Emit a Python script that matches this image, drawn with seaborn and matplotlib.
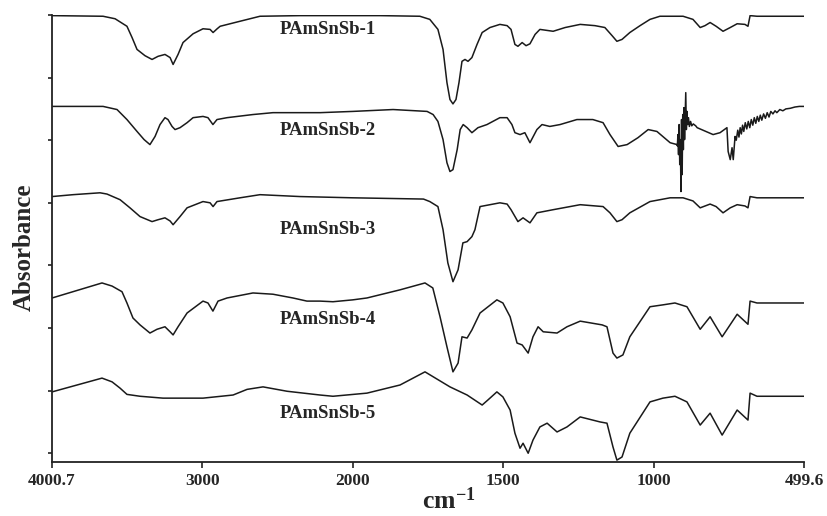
import numpy as np
import pandas as pd
import matplotlib
matplotlib.use("Agg")
import matplotlib.pyplot as plt
import seaborn as sns

# FTIR spectra, wavenumber (cm-1) and offset absorbance
samples = ["PAmSnSb-1", "PAmSnSb-2", "PAmSnSb-3", "PAmSnSb-4", "PAmSnSb-5"]

wn_1 = [4000, 3661, 3581, 3502, 3468, 3435, 3382, 3335, 3295, 3249, 3215, 3195, 3162, 3129, 3062,
        2996, 2949, 2929, 2902, 2882, 2750, 2617, 2351, 2019, 1910, 1777, 1744, 1717, 1700, 1687,
        1677, 1667, 1657, 1647, 1637, 1627, 1617, 1604, 1587, 1570, 1544, 1511, 1487, 1474, 1461,
        1451, 1437, 1424, 1411, 1394, 1378, 1334, 1294, 1244, 1195, 1162, 1138, 1122, 1105, 1079,
        1045, 1012, 979, 902, 869, 845, 829, 812, 792, 769, 745, 722, 696, 686, 679, 656, 499.6]
ab_1 = [6.99, 6.98, 6.94, 6.82, 6.64, 6.45, 6.35, 6.29, 6.34, 6.37, 6.32, 6.21, 6.37, 6.56, 6.70,
        6.78, 6.77, 6.72, 6.78, 6.82, 6.90, 6.98, 6.99, 6.99, 6.99, 6.98, 6.93, 6.77, 6.45, 5.92,
        5.65, 5.58, 5.65, 5.92, 6.26, 6.29, 6.26, 6.32, 6.53, 6.72, 6.80, 6.85, 6.83, 6.77, 6.53,
        6.50, 6.56, 6.51, 6.54, 6.69, 6.77, 6.74, 6.80, 6.85, 6.83, 6.80, 6.67, 6.58, 6.61, 6.72,
        6.83, 6.93, 6.98, 6.98, 6.93, 6.80, 6.83, 6.88, 6.82, 6.74, 6.80, 6.86, 6.85, 6.82, 6.99,
        6.98, 6.98]

wn_2 = [4000, 3661, 3568, 3502, 3435, 3388, 3349, 3315, 3282, 3249, 3229, 3202, 3182, 3149, 3102,
        3062, 2996, 2963, 2930, 2903, 2836, 2664, 2531, 2218, 2000, 1866, 1753, 1733, 1717, 1700,
        1687, 1677, 1667, 1653, 1643, 1633, 1620, 1604, 1584, 1554, 1511, 1487, 1471, 1461, 1444,
        1428, 1411, 1388, 1371, 1345, 1311, 1255, 1202, 1168, 1145, 1118, 1088, 1052, 1018, 989,
        945, 922, 921, 919, 917, 915, 913, 911, 909, 907, 905, 903, 901, 899, 897, 895, 893, 891,
        889, 887, 884, 881, 877, 873, 868, 860, 855, 802, 779, 756, 752, 745, 739, 735, 729, 725,
        720, 716, 712, 708, 704, 700, 695, 690, 685, 680, 675, 670, 665, 660, 655, 650, 645, 640,
        634, 628, 622, 616, 610, 603, 596, 590, 580, 570, 560, 545, 530, 515, 499.6]
ab_2 = [5.54, 5.54, 5.49, 5.33, 5.14, 5.01, 4.93, 5.06, 5.25, 5.36, 5.33, 5.22, 5.17, 5.20, 5.28,
        5.36, 5.38, 5.36, 5.25, 5.33, 5.36, 5.41, 5.44, 5.44, 5.46, 5.49, 5.46, 5.41, 5.30, 5.01,
        4.64, 4.50, 4.53, 4.85, 5.17, 5.25, 5.20, 5.12, 5.20, 5.25, 5.36, 5.36, 5.25, 5.12, 5.09,
        5.12, 4.96, 5.17, 5.25, 5.22, 5.25, 5.33, 5.33, 5.28, 5.09, 4.90, 4.93, 5.04, 5.17, 5.14,
        4.96, 4.93, 4.91, 5.09, 4.77, 5.25, 4.61, 5.01, 4.18, 5.33, 4.45, 5.41, 4.85, 5.52, 5.01,
        5.36, 5.76, 5.17, 5.46, 5.25, 5.36, 5.22, 5.30, 5.23, 5.26, 5.23, 5.20, 5.09, 5.12, 5.20,
        4.82, 4.69, 4.88, 4.69, 5.06, 5.00, 5.16, 5.05, 5.20, 5.10, 5.24, 5.14, 5.28, 5.18, 5.30,
        5.20, 5.33, 5.24, 5.36, 5.27, 5.38, 5.30, 5.40, 5.32, 5.42, 5.35, 5.44, 5.37, 5.46, 5.42,
        5.47, 5.44, 5.49, 5.47, 5.50, 5.51, 5.53, 5.54, 5.54]

wn_3 = [4000, 3861, 3681, 3635, 3548, 3482, 3415, 3335, 3295, 3249, 3215, 3195, 3149, 3102, 2996,
        2949, 2929, 2903, 2750, 2617, 2351, 2000, 1765, 1744, 1717, 1700, 1684, 1667, 1650, 1634,
        1620, 1604, 1594, 1577, 1544, 1511, 1487, 1474, 1451, 1434, 1411, 1388, 1334, 1244, 1168,
        1145, 1122, 1105, 1079, 1012, 945, 902, 869, 845, 812, 792, 769, 745, 722, 696, 686, 679,
        656, 499.6]
ab_3 = [4.10, 4.13, 4.16, 4.14, 4.05, 3.92, 3.78, 3.70, 3.73, 3.76, 3.71, 3.65, 3.78, 3.92, 4.02,
        4.00, 3.94, 4.02, 4.08, 4.13, 4.10, 4.08, 4.06, 4.02, 3.94, 3.57, 3.04, 2.74, 2.93, 3.36,
        3.38, 3.46, 3.57, 3.94, 3.97, 4.00, 3.98, 3.89, 3.70, 3.76, 3.68, 3.84, 3.89, 3.97, 3.94,
        3.84, 3.70, 3.73, 3.84, 4.02, 4.08, 4.08, 4.03, 3.92, 3.98, 3.94, 3.84, 3.92, 3.97, 3.95,
        3.92, 4.10, 4.08, 4.08]

wn_4 = [4000, 3668, 3601, 3535, 3502, 3462, 3415, 3349, 3302, 3249, 3215, 3195, 3162, 3102, 2996,
        2963, 2930, 2896, 2836, 2664, 2531, 2398, 2305, 2218, 2132, 2000, 1953, 1843, 1760, 1734,
        1710, 1687, 1667, 1650, 1637, 1620, 1604, 1577, 1521, 1501, 1477, 1454, 1437, 1417, 1401,
        1384, 1367, 1321, 1288, 1244, 1171, 1155, 1135, 1122, 1102, 1079, 1012, 969, 929, 889, 845,
        812, 772, 722, 686, 679, 656, 499.6]
ab_4 = [2.48, 2.72, 2.67, 2.58, 2.40, 2.16, 2.05, 1.92, 1.98, 2.02, 1.94, 1.89, 2.02, 2.24, 2.43,
        2.40, 2.27, 2.43, 2.48, 2.56, 2.54, 2.48, 2.43, 2.43, 2.42, 2.45, 2.48, 2.61, 2.72, 2.64,
        2.18, 1.70, 1.30, 1.44, 1.86, 1.84, 1.97, 2.24, 2.45, 2.40, 2.18, 1.76, 1.73, 1.60, 1.86,
        2.02, 1.94, 1.92, 2.02, 2.11, 2.05, 2.02, 1.60, 1.52, 1.57, 1.86, 2.34, 2.37, 2.40, 2.34,
        1.98, 2.18, 1.86, 2.22, 2.06, 2.43, 2.40, 2.40]

wn_5 = [4000, 3668, 3601, 3548, 3502, 3415, 3262, 2996, 2796, 2703, 2597, 2437, 2218, 2132, 1953,
        1843, 1760, 1677, 1620, 1570, 1551, 1521, 1501, 1477, 1461, 1444, 1434, 1417, 1401, 1378,
        1354, 1321, 1288, 1244, 1178, 1155, 1135, 1122, 1105, 1079, 1012, 969, 929, 889, 845, 812,
        772, 722, 686, 679, 656, 499.6]
ab_5 = [0.98, 1.20, 1.14, 1.04, 0.94, 0.91, 0.88, 0.88, 0.93, 1.02, 1.06, 0.99, 0.93, 0.91, 0.96,
        1.09, 1.30, 1.06, 0.93, 0.77, 0.85, 0.98, 0.90, 0.69, 0.32, 0.08, 0.16, 0.00, 0.21, 0.42,
        0.48, 0.34, 0.42, 0.58, 0.50, 0.48, 0.10, -0.11, -0.06, 0.32, 0.82, 0.88, 0.91, 0.82, 0.45,
        0.64, 0.29, 0.69, 0.53, 0.96, 0.91, 0.91]

wn_all = [wn_1, wn_2, wn_3, wn_4, wn_5]
ab_all = [ab_1, ab_2, ab_3, ab_4, ab_5]

tick_wn = [4000.7, 3000, 2000, 1500, 1000, 499.6]
tick_labels = ["4000.7", "3000", "2000", "1500", "1000", "499.6"]

sns.set_style("ticks")
plt.rcParams["font.family"] = ["Liberation Serif", "DejaVu Serif"]
plt.rcParams["font.weight"] = "bold"
plt.rcParams["mathtext.fontset"] = "custom"
plt.rcParams["mathtext.rm"] = "Liberation Serif:bold"
plt.rcParams["mathtext.it"] = "Liberation Serif:bold"
plt.rcParams["mathtext.bf"] = "Liberation Serif:bold"

# the instrument axis: 4000-2000 compressed, 2000-500 expanded (equal tick spacing)
brk_wn = [499.6, 1000, 1500, 2000, 3000, 4000.7]
brk_pos = [0, 1, 2, 3, 4, 5]

def fwd(w):
    return np.interp(w, brk_wn, brk_pos)

def inv(p):
    return np.interp(p, brk_pos, brk_wn)

fig = plt.figure(figsize=(8.28, 5.16), dpi=100)
ax = fig.add_axes([52 / 828, 54 / 516, 752 / 828, 447 / 516])

for name, w, a in zip(samples, wn_all, ab_all):
    df = pd.DataFrame({"wn": w, "absorbance": a})
    sns.lineplot(data=df, x="wn", y="absorbance", ax=ax, color="#1a1a1a",
                 linewidth=1.1, estimator=None, errorbar=None, sort=False)

ax.set_xscale("function", functions=(fwd, inv))
ax.set_xlim(4000.7, 499.6)
ax.set_ylim(-0.14, 7.0)
ax.set_xticks(tick_wn)
ax.set_xticklabels(tick_labels)
ax.set_yticks(range(8))
ax.set_yticklabels([])
ax.tick_params(axis="x", labelsize=12.5, length=4, width=1.2, pad=4, color="#222222")
ax.tick_params(axis="y", length=3, width=1.2, color="#222222")
for s in ["top", "right"]:
    ax.spines[s].set_visible(False)
for s in ["left", "bottom"]:
    ax.spines[s].set_linewidth(1.3)
    ax.spines[s].set_color("#222222")

# sample names next to each trace
label_y = [6.77, 5.15, 3.57, 2.14, 0.64]
for name, y in zip(samples, label_y):
    ax.text(2165, y, name, ha="center", va="center", fontsize=13.5, fontweight="bold")

ax.set_xlabel("cm$^{-1}$", fontsize=18.5, fontweight="bold")
ax.xaxis.set_label_coords(397 / 752, -0.056)
ax.set_ylabel("Absorbance", fontsize=18, fontweight="bold")
ax.yaxis.set_label_coords(-0.022, 0.481)

fig.savefig("out.png", dpi=100)
